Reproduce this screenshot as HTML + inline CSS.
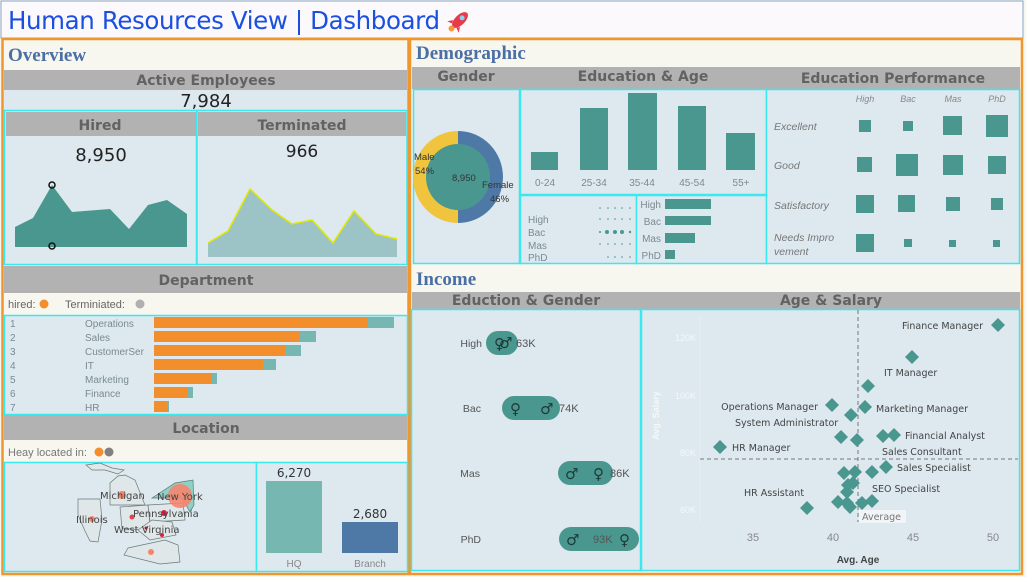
<!DOCTYPE html>
<html><head><meta charset="utf-8"><style>
html,body{margin:0;padding:0;background:#f7f6ef;}
svg{display:block;font-family:"Liberation Sans",sans-serif;}
.h{font-family:"DejaVu Sans",sans-serif;font-weight:bold;fill:#626262;font-size:14px;text-anchor:middle;}
.s{font-family:"Liberation Serif",serif;font-weight:bold;fill:#4a6fa5;font-size:19px;}
.t{fill:#7b8a92;font-size:10px;}
.pb{fill:#dde8ef;stroke:#3ce8ef;stroke-width:1.5;}
.g{fill:#b2b2b2;}
.tl{fill:#4a978f;}
</style></head><body>
<svg width="1026" height="577" viewBox="0 0 1026 577" xmlns="http://www.w3.org/2000/svg">
<rect width="1026" height="577" fill="#f7f6ef"/>
<rect x="1" y="1" width="1022" height="37" fill="#fbf9fc" stroke="#8aa6c8" stroke-width="1"/>
<text x="8" y="29" fill="#1a4fe0" font-size="24.5" font-family="DejaVu Sans,sans-serif" textLength="432">Human Resources View  |  Dashboard</text>
<g transform="translate(460,20) rotate(45)"><ellipse cx="0" cy="0" rx="5" ry="10" fill="#e83a4a"/><circle cx="0" cy="-3" r="2.5" fill="#8ad0f0"/><path d="M-5 5 L-8 10 L-3 8Z M5 5 L8 10 L3 8Z" fill="#e83a4a"/><ellipse cx="0" cy="12" rx="3" ry="3" fill="#f39a3a"/></g>
<rect x="2.5" y="39" width="406" height="535" fill="none" stroke="#f0962e" stroke-width="2.5"/>
<rect x="410" y="39" width="612" height="535" fill="none" stroke="#f0962e" stroke-width="2.5"/>

<text x="8" y="61" class="s">Overview</text>
<rect x="4" y="70" width="403" height="20" class="g"/>
<text x="206" y="85" class="h">Active Employees</text>
<rect x="4" y="90" width="403" height="20" fill="#dde8ef"/>
<text x="206" y="107" text-anchor="middle" font-size="18" fill="#222" font-family="DejaVu Sans,sans-serif">7,984</text>
<rect x="4.5" y="110.5" width="192" height="154" class="pb"/>
<rect x="197" y="110.5" width="210" height="154" class="pb"/>
<rect x="6" y="112" width="190" height="24" class="g"/>
<rect x="198" y="112" width="208" height="24" class="g"/>
<text x="100" y="130" class="h">Hired</text>
<text x="302" y="130" class="h">Terminated</text>
<text x="101" y="161" text-anchor="middle" font-size="18" fill="#222" font-family="DejaVu Sans,sans-serif">8,950</text>
<text x="302" y="157" text-anchor="middle" font-size="17" fill="#222" font-family="DejaVu Sans,sans-serif">966</text>
<polygon points="15,227 33,218 52,185 72,212 110,209 129,229 148,205 167,200 187,214 187,247 15,247" fill="#4a978f"/>
<circle cx="52" cy="185" r="3" fill="none" stroke="#111" stroke-width="1.5"/>
<circle cx="52" cy="246" r="3" fill="none" stroke="#111" stroke-width="1.5"/>
<polygon points="208,243 228,231 250,189 272,210 292,224 312,220 333,243 354,211 376,234 397,239 397,257 208,257" fill="#9cc4c6"/>
<polyline points="208,243 228,231 250,189 272,210 292,224 312,220 333,243 354,211 376,234 397,239" fill="none" stroke="#e0e800" stroke-width="1.5"/>

<rect x="4" y="266" width="403" height="27" class="g"/>
<text x="206" y="285" class="h">Department</text>
<text x="8" y="308" font-size="11" fill="#666">hired:</text><circle cx="44" cy="304" r="4.5" fill="#f28e2b"/>
<text x="65" y="308" font-size="11" fill="#666">Terminiated:</text><circle cx="140" cy="304" r="4.5" fill="#b0b0b0"/>
<rect x="4.5" y="315.5" width="403" height="99" class="pb"/>
<g class="t">
<text x="10" y="327">1</text><text x="85" y="327">Operations</text>
<text x="10" y="341">2</text><text x="85" y="341">Sales</text>
<text x="10" y="355">3</text><text x="85" y="355">CustomerSer</text>
<text x="10" y="369">4</text><text x="85" y="369">IT</text>
<text x="10" y="383">5</text><text x="85" y="383">Marketing</text>
<text x="10" y="397">6</text><text x="85" y="397">Finance</text>
<text x="10" y="411">7</text><text x="85" y="411">HR</text>
</g>
<g fill="#76b7b2">
<rect x="154" y="317" width="240" height="11"/><rect x="154" y="331" width="162" height="11"/><rect x="154" y="345" width="147" height="11"/><rect x="154" y="359" width="122" height="11"/><rect x="154" y="373" width="63" height="11"/><rect x="154" y="387" width="39" height="11"/><rect x="154" y="401" width="15" height="11"/>
</g>
<g fill="#f28e2b">
<rect x="154" y="317" width="214" height="11"/><rect x="154" y="331" width="145" height="11"/><rect x="154" y="345" width="131" height="11"/><rect x="154" y="359" width="109" height="11"/><rect x="154" y="373" width="58" height="11"/><rect x="154" y="387" width="34" height="11"/><rect x="154" y="401" width="13" height="11"/>
</g>

<rect x="4" y="415" width="403" height="25" class="g"/>
<text x="206" y="433" class="h">Location</text>
<text x="8" y="456" font-size="11" fill="#777">Heay located  in:</text>
<circle cx="99" cy="452" r="4.5" fill="#f28e2b"/><circle cx="109" cy="452" r="4.5" fill="#808080"/>
<rect x="4.5" y="462.5" width="252" height="109" class="pb"/>
<rect x="256.5" y="462.5" width="151" height="109" class="pb"/>
<g fill="#dfe7e8" stroke="#6a7a7a" stroke-width="0.7">
<path d="M86,465 L100,463 L112,468 L124,470 L118,474 L105,470 L92,470Z"/>
<polygon points="110,483 118,476 125,475 135,480 145,505 110,505"/>
<polygon points="78,499 100,499 102,520 98,542 90,541 85,531 78,515"/>
<polygon points="120,507 148,505 150,525 140,530 122,528"/>
<polygon points="148,505 183,503 185,520 150,522"/>
<polygon points="138,530 152,520 172,522 176,535 150,540"/>
<polygon points="128,548 165,540 178,545 180,562 160,564 124,555"/>
</g>
<polygon points="152,498 175,483 193,480 194,505 190,512 182,498" fill="#8fd0c4" stroke="#5a7a7a" stroke-width="0.7"/>
<circle cx="180" cy="496" r="12" fill="#f4846e" opacity="0.9"/>
<circle cx="122" cy="495" r="4" fill="#f4846e"/>
<circle cx="92" cy="519" r="3" fill="#f4846e"/>
<circle cx="132" cy="517" r="2.5" fill="#e84050"/>
<circle cx="164" cy="513" r="3" fill="#d82040"/>
<circle cx="146" cy="528" r="1.5" fill="#c01030"/>
<circle cx="162" cy="535" r="2" fill="#d82040"/>
<circle cx="151" cy="552" r="3" fill="#f4846e"/>
<g font-size="10" fill="#444" font-family="DejaVu Sans,sans-serif">
<text x="100" y="499">Michigan</text><text x="157" y="500">New York</text><text x="133" y="517">Pennsylvania</text><text x="76" y="523">Illinois</text><text x="114" y="533">West Virginia</text>
</g>
<rect x="266" y="481" width="56" height="72" fill="#76b7b2"/>
<rect x="342" y="522" width="56" height="31" fill="#4e79a7"/>
<g font-size="12" fill="#333" text-anchor="middle" font-family="DejaVu Sans,sans-serif"><text x="294" y="477">6,270</text><text x="370" y="518">2,680</text></g>
<g font-size="10" fill="#888" text-anchor="middle"><text x="294" y="567">HQ</text><text x="370" y="567">Branch</text></g>

<text x="416" y="59" class="s">Demographic</text>
<rect x="412" y="67" width="608" height="22" class="g"/>
<text x="466" y="81" class="h">Gender</text>
<text x="643" y="81" class="h">Education &amp; Age</text>
<text x="893" y="83" class="h">Education Performance</text>
<rect x="413.5" y="89.5" width="106" height="174" class="pb"/>
<rect x="520.5" y="89.5" width="246" height="105" class="pb"/>
<rect x="520.5" y="195.5" width="116" height="68" class="pb"/>
<rect x="636.5" y="195.5" width="130" height="68" class="pb"/>
<rect x="766.5" y="89.5" width="253" height="174" class="pb"/>
<path d="M458,131 A45,46 0 0 0 458,223 Z" fill="#f0c43c"/>
<path d="M458,131 A45,46 0 0 1 458,223 Z" fill="#4e79a7"/>
<ellipse cx="458" cy="177" rx="32" ry="33" fill="#4a978f"/>
<g font-size="9.5" fill="#333"><text x="414" y="160">Male</text><text x="415" y="174">54%</text><text x="452" y="181">8,950</text><text x="482" y="188">Female</text><text x="490" y="202">46%</text></g>
<g class="tl">
<rect x="531" y="152" width="27" height="18"/><rect x="580" y="108" width="28" height="62"/><rect x="628" y="93" width="29" height="77"/><rect x="678" y="106" width="28" height="64"/><rect x="726" y="133" width="29" height="37"/>
</g>
<g class="t" text-anchor="middle"><text x="545" y="186">0-24</text><text x="594" y="186">25-34</text><text x="642" y="186">35-44</text><text x="692" y="186">45-54</text><text x="741" y="186">55+</text></g>
<g class="t"><text x="528" y="223">High</text><text x="528" y="236">Bac</text><text x="528" y="249">Mas</text><text x="528" y="261">PhD</text></g>
<g fill="#4a978f">
<circle cx="600" cy="208" r="0.8"/><circle cx="608" cy="208" r="0.8"/><circle cx="615" cy="208" r="0.8"/><circle cx="622" cy="208" r="0.8"/><circle cx="630" cy="208" r="0.8"/>
<circle cx="600" cy="219" r="0.8"/><circle cx="608" cy="219" r="0.8"/><circle cx="615" cy="219" r="0.8"/><circle cx="622" cy="219" r="0.8"/><circle cx="630" cy="219" r="0.8"/>
<circle cx="600" cy="232" r="1"/><circle cx="607" cy="232" r="2"/><circle cx="615" cy="232" r="2"/><circle cx="622" cy="232" r="2"/><circle cx="630" cy="232" r="1.2"/>
<circle cx="600" cy="244" r="0.8"/><circle cx="608" cy="244" r="0.8"/><circle cx="615" cy="244" r="0.8"/><circle cx="622" cy="244" r="0.8"/><circle cx="630" cy="244" r="0.8"/>
<circle cx="608" cy="257" r="0.8"/><circle cx="615" cy="257" r="0.8"/><circle cx="622" cy="257" r="0.8"/><circle cx="630" cy="257" r="0.8"/>
<rect x="665" y="199" width="46" height="10"/><rect x="665" y="216" width="46" height="9"/><rect x="665" y="233" width="30" height="10"/><rect x="665" y="250" width="10" height="9"/>
</g>
<g class="t" text-anchor="end"><text x="661" y="208">High</text><text x="661" y="225">Bac</text><text x="661" y="242">Mas</text><text x="661" y="259">PhD</text></g>
<g font-size="9" fill="#888" font-style="italic" text-anchor="middle"><text x="865" y="102">High</text><text x="908" y="102">Bac</text><text x="953" y="102">Mas</text><text x="997" y="102">PhD</text></g>
<g font-size="10.5" fill="#777" font-style="italic"><text x="774" y="130">Excellent</text><text x="774" y="169">Good</text><text x="774" y="209">Satisfactory</text><text x="774" y="241">Needs Impro</text><text x="774" y="255">vement</text></g>
<g class="tl">
<rect x="859" y="120" width="12" height="12"/><rect x="903" y="121" width="10" height="10"/><rect x="943" y="116" width="19" height="19"/><rect x="986" y="115" width="22" height="22"/>
<rect x="857" y="157" width="15" height="15"/><rect x="896" y="154" width="22" height="22"/><rect x="943" y="155" width="20" height="20"/><rect x="988" y="156" width="18" height="18"/>
<rect x="856" y="195" width="18" height="18"/><rect x="898" y="195" width="17" height="17"/><rect x="946" y="197" width="14" height="14"/><rect x="991" y="198" width="12" height="12"/>
<rect x="856" y="234" width="18" height="18"/><rect x="904" y="239" width="8" height="8"/><rect x="949" y="240" width="7" height="7"/><rect x="993" y="240" width="7" height="7"/>
</g>

<text x="416" y="285" class="s">Income</text>
<rect x="412" y="292" width="608" height="18" class="g"/>
<text x="526" y="305" class="h">Eduction &amp; Gender</text>
<text x="831" y="305" class="h">Age &amp; Salary</text>
<rect x="411.5" y="309.5" width="229" height="261" class="pb"/>
<rect x="641.5" y="309.5" width="378" height="261" class="pb"/>
<g font-size="10.5" fill="#555" text-anchor="end"><text x="482" y="347">High</text><text x="481" y="412">Bac</text><text x="480" y="477">Mas</text><text x="481" y="543">PhD</text></g>
<g class="tl"><rect x="486" y="331" width="32" height="24" rx="12"/><rect x="502" y="396" width="58" height="24" rx="12"/><rect x="558" y="461" width="55" height="24" rx="12"/><rect x="559" y="527" width="80" height="24" rx="12"/></g>
<g font-size="15" fill="#1d3a38" font-weight="bold" font-family="DejaVu Sans,sans-serif"><text x="494" y="349">♀</text><text x="499" y="348">♂</text><text x="510" y="414">♀</text><text x="540" y="414">♂</text><text x="565" y="479">♂</text><text x="593" y="479">♀</text><text x="566" y="545">♂</text><text x="619" y="545">♀</text></g>
<g font-size="11" fill="#555"><text x="516" y="347">63K</text><text x="559" y="412">74K</text><text x="610" y="477">86K</text><text x="593" y="543">93K</text></g>

<line x1="700" y1="315" x2="700" y2="522" stroke="#e8eef2" stroke-width="1"/>
<g font-size="9" fill="#f4f8fa" text-anchor="end"><text x="696" y="341">120K</text><text x="696" y="399">100K</text><text x="696" y="456">80K</text><text x="696" y="513">60K</text></g>
<text transform="translate(659,440) rotate(-90)" font-size="9" fill="#f4f8fa" font-weight="bold">Avg. Salary</text>
<line x1="858" y1="310" x2="858" y2="522" stroke="#777" stroke-dasharray="4,3"/>
<line x1="700" y1="459" x2="1018" y2="459" stroke="#777" stroke-dasharray="4,3"/>
<g fill="#4a978f">
<path d="M998,318 l7,7 l-7,7 l-7,-7Z"/><path d="M912,350 l7,7 l-7,7 l-7,-7Z"/><path d="M868,379 l7,7 l-7,7 l-7,-7Z"/><path d="M832,398 l7,7 l-7,7 l-7,-7Z"/><path d="M865,400 l7,7 l-7,7 l-7,-7Z"/><path d="M851,408 l7,7 l-7,7 l-7,-7Z"/><path d="M841,430 l7,7 l-7,7 l-7,-7Z"/><path d="M857,433 l7,7 l-7,7 l-7,-7Z"/><path d="M883,429 l7,7 l-7,7 l-7,-7Z"/><path d="M894,428 l7,7 l-7,7 l-7,-7Z"/><path d="M720,440 l7,7 l-7,7 l-7,-7Z"/><path d="M886,460 l7,7 l-7,7 l-7,-7Z"/><path d="M844,466 l7,7 l-7,7 l-7,-7Z"/><path d="M855,465 l7,7 l-7,7 l-7,-7Z"/><path d="M872,465 l7,7 l-7,7 l-7,-7Z"/><path d="M848,478 l7,7 l-7,7 l-7,-7Z"/><path d="M853,476 l7,7 l-7,7 l-7,-7Z"/><path d="M847,485 l7,7 l-7,7 l-7,-7Z"/><path d="M838,495 l7,7 l-7,7 l-7,-7Z"/><path d="M850,500 l7,7 l-7,7 l-7,-7Z"/><path d="M847,496 l7,7 l-7,7 l-7,-7Z"/><path d="M862,496 l7,7 l-7,7 l-7,-7Z"/><path d="M872,494 l7,7 l-7,7 l-7,-7Z"/><path d="M807,501 l7,7 l-7,7 l-7,-7Z"/>
</g>
<g font-size="9.5" fill="#444" font-family="DejaVu Sans,sans-serif">
<text x="983" y="329" text-anchor="end">Finance Manager</text><text x="884" y="376">IT Manager</text><text x="818" y="410" text-anchor="end">Operations Manager</text><text x="876" y="412">Marketing Manager</text><text x="735" y="426">System Administrator</text><text x="905" y="439">Financial Analyst</text><text x="732" y="451">HR Manager</text><text x="882" y="455">Sales Consultant</text><text x="897" y="471">Sales Specialist</text><text x="872" y="492">SEO Specialist</text><text x="744" y="496">HR Assistant</text>
</g>
<rect x="859" y="510" width="47" height="13" fill="#f2f5f7"/>
<text x="862" y="520" font-size="9.5" fill="#777" font-family="DejaVu Sans,sans-serif">Average</text>
<g font-size="11" fill="#888" text-anchor="middle"><text x="753" y="541">35</text><text x="833" y="541">40</text><text x="913" y="541">45</text><text x="993" y="541">50</text></g>
<text x="858" y="563" text-anchor="middle" font-size="10" fill="#444" font-weight="bold">Avg. Age</text>
</svg>
</body></html>
